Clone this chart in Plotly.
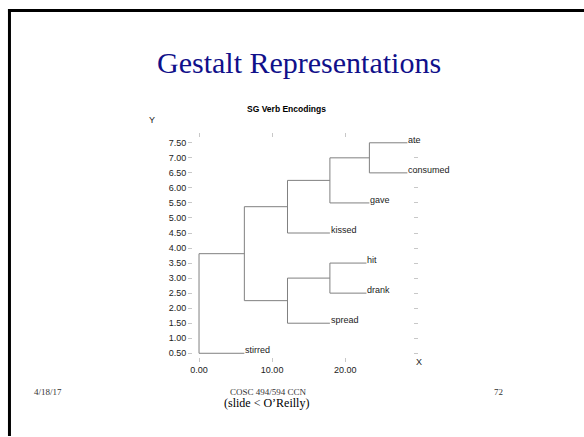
import plotly.graph_objects as go

# ---- data ----
leaf_names = ["ate", "consumed", "gave", "kissed", "hit", "drank", "spread", "stirred"]
leaf_y = [7.5, 6.5, 5.5, 4.5, 3.5, 2.5, 1.5, 0.5]
leaf_x = [28.5, 28.5, 23.3, 17.9, 22.9, 22.9, 17.9, 6.2]

# merge nodes: name, left child, right child, merge distance (x)
node_names = ["n1", "n2", "n3", "n4", "n5", "n6", "n7"]
node_left = ["ate", "n1", "n2", "hit", "n4", "n3", "n6"]
node_right = ["consumed", "gave", "kissed", "drank", "spread", "n5", "stirred"]
node_x = [23.3, 17.9, 12.1, 17.9, 12.1, 6.2, 0.0]

y_ticks = [0.5, 1.0, 1.5, 2.0, 2.5, 3.0, 3.5, 4.0, 4.5, 5.0, 5.5, 6.0, 6.5, 7.0, 7.5]
x_ticks = [0, 10, 20]

# ---- build dendrogram segments ----
pos = {n: (x, y) for n, x, y in zip(leaf_names, leaf_x, leaf_y)}
seg_x, seg_y = [], []
for name, l, r, x in zip(node_names, node_left, node_right, node_x):
    lx, ly = pos[l]
    rx, ry = pos[r]
    seg_x += [lx, x, x, rx, None]
    seg_y += [ly, ly, ry, ry, None]
    pos[name] = (x, (ly + ry) / 2)

W, H = 584, 437
fig = go.Figure()
fig.add_trace(go.Scatter(x=seg_x, y=seg_y, mode="lines",
                         line=dict(color="#808080", width=1),
                         hoverinfo="skip", showlegend=False, cliponaxis=False))

for name, lx, ly in zip(leaf_names, leaf_x, leaf_y):
    fig.add_annotation(x=lx, y=ly, xref="x", yref="y", text=name, showarrow=False,
                       xanchor="left", yanchor="middle", xshift=-1, yshift=3,
                       font=dict(family="Liberation Sans", size=9, color="#222"))

x0, x1 = 191, 412
yt, yb = 138, 358
axis_font = dict(family="Liberation Sans", size=9, color="#222")
fig.update_layout(
    width=W, height=H, autosize=False,
    margin=dict(l=0, r=0, t=0, b=0),
    paper_bgcolor="white", plot_bgcolor="white",
    xaxis=dict(domain=[x0 / W, x1 / W], range=[-0.82, 29.25],
               tickvals=x_ticks, tickformat=".2f",
               showgrid=False, zeroline=False, showline=False,
               ticks="outside", ticklen=4, tickcolor="#c8c8c8", mirror="ticks",
               tickfont=axis_font),
    yaxis=dict(domain=[1 - yb / H, 1 - yt / H], range=[0.37, 7.67],
               tickvals=y_ticks, tickformat=".2f",
               showgrid=False, zeroline=False, showline=False,
               ticks="outside", ticklen=4, tickcolor="#c8c8c8", mirror="ticks",
               tickfont=axis_font),
)

def ann(text, px, py, size, family, color="black", xanchor="center", bold=False):
    if bold:
        text = "<b>" + text + "</b>"
    fig.add_annotation(text=text, x=px / W, y=1 - py / H, xref="paper", yref="paper",
                       xanchor=xanchor, yanchor="middle", showarrow=False,
                       font=dict(size=size, family=family, color=color))

ann("Gestalt Representations", 298, 63, 30, "Liberation Serif", color="#10108a")
ann("SG Verb Encodings", 285, 109, 8.5, "Liberation Sans", bold=True)
ann("Y", 150, 120, 9, "Liberation Sans", color="#222")
ann("X", 418, 363, 9, "Liberation Sans", color="#222")
ann("4/18/17", 29, 393, 9, "Liberation Serif", color="#333", xanchor="left")
ann("COSC 494/594 CCN", 267, 393, 9, "Liberation Serif", color="#333")
ann("72", 498, 393, 9, "Liberation Serif", color="#333")
ann("(slide &lt; O’Reilly)", 265, 404, 12, "Liberation Serif")

# slide frame (left and top edges)
fig.add_shape(type="line", xref="paper", yref="paper", x0=6.5 / W, x1=6.5 / W,
              y0=0, y1=1 - 9 / H, line=dict(color="black", width=3))
fig.add_shape(type="line", xref="paper", yref="paper", x0=5 / W, x1=1,
              y0=1 - 10.5 / H, y1=1 - 10.5 / H, line=dict(color="black", width=3))

fig.write_html("out.html", config={"displayModeBar": False},
               post_script="document.body.style.margin='0';document.body.style.overflow='hidden';")
